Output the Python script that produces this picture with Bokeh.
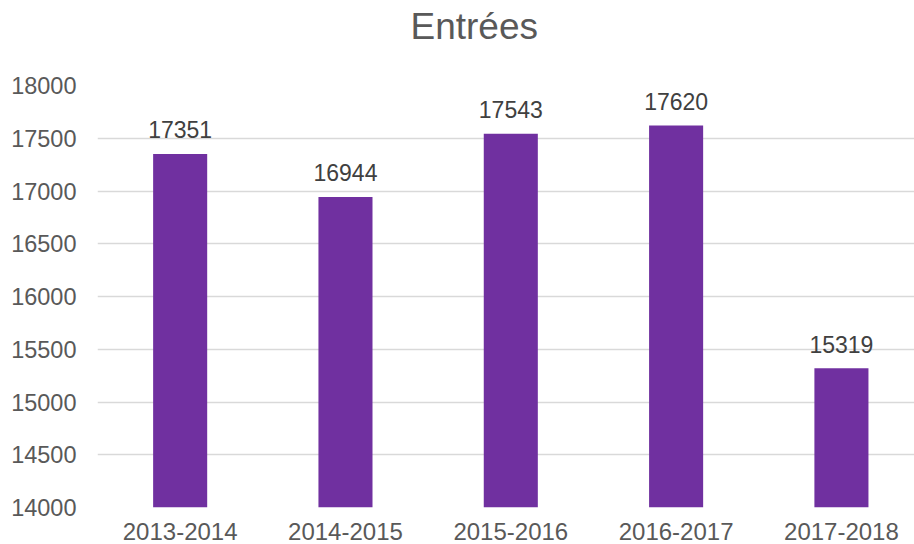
from bokeh.plotting import figure
from bokeh.models import Range1d, FixedTicker, ColumnDataSource, Title
from bokeh.core.properties import value
from bokeh.embed import file_html
from bokeh.resources import INLINE

title_text = "Entrées"
categories = ["2013-2014", "2014-2015", "2015-2016", "2016-2017", "2017-2018"]
entrees = [17351, 16944, 17543, 17620, 15319]
y_ticks = [14000, 14500, 15000, 15500, 16000, 16500, 17000, 17500, 18000]

FONT = "Liberation Sans"
TXT = "#595959"

xs = list(range(len(categories)))
src = ColumnDataSource(dict(x=xs, top=entrees, lab=[str(v) for v in entrees]))

p = figure(width=914, height=544, output_backend="svg", toolbar_location=None,
           x_range=Range1d(-0.5, 4.442), y_range=Range1d(14000, 18000),
           min_border_left=97, min_border_right=0, min_border_top=85, min_border_bottom=37)
p.outline_line_color = None
p.background_fill_color = "white"
p.border_fill_color = "white"

# spacer panel between frame and title (nearest the frame)
p.add_layout(Title(text=" ", text_font_size="1px", standoff=36), "above")
p.add_layout(Title(text=title_text, text_font=FONT, text_font_size="37px",
                   text_font_style="normal", text_color=TXT, align="left",
                   offset=313, standoff=0), "above")

p.vbar(x="x", top="top", bottom=14000, width=0.327, source=src,
       fill_color="#7030A0", line_color=None)
p.text(x="x", y="top", text="lab", source=src, text_align="center",
       text_baseline="alphabetic", y_offset=-24, text_font=value(FONT),
       text_font_size="23px", text_color="#404040")

p.xaxis.ticker = FixedTicker(ticks=xs)
p.xaxis.major_label_overrides = {i: c for i, c in enumerate(categories)}
p.yaxis.ticker = FixedTicker(ticks=y_ticks)
for ax in (p.xaxis, p.yaxis):
    ax.axis_line_color = None
    ax.major_tick_line_color = None
    ax.minor_tick_line_color = None
    ax.major_label_text_font = FONT
    ax.major_label_text_color = TXT
p.xaxis.major_label_text_font_size = "24px"
p.yaxis.major_label_text_font_size = "23.5px"
p.xaxis.major_label_standoff = 9
p.yaxis.major_label_standoff = 15

p.xgrid.grid_line_color = None
p.ygrid.ticker = FixedTicker(ticks=y_ticks)
p.ygrid.grid_line_color = "#D9D9D9"
p.ygrid.grid_line_width = 1.5

open("out.html", "w").write(file_html(p, INLINE))
